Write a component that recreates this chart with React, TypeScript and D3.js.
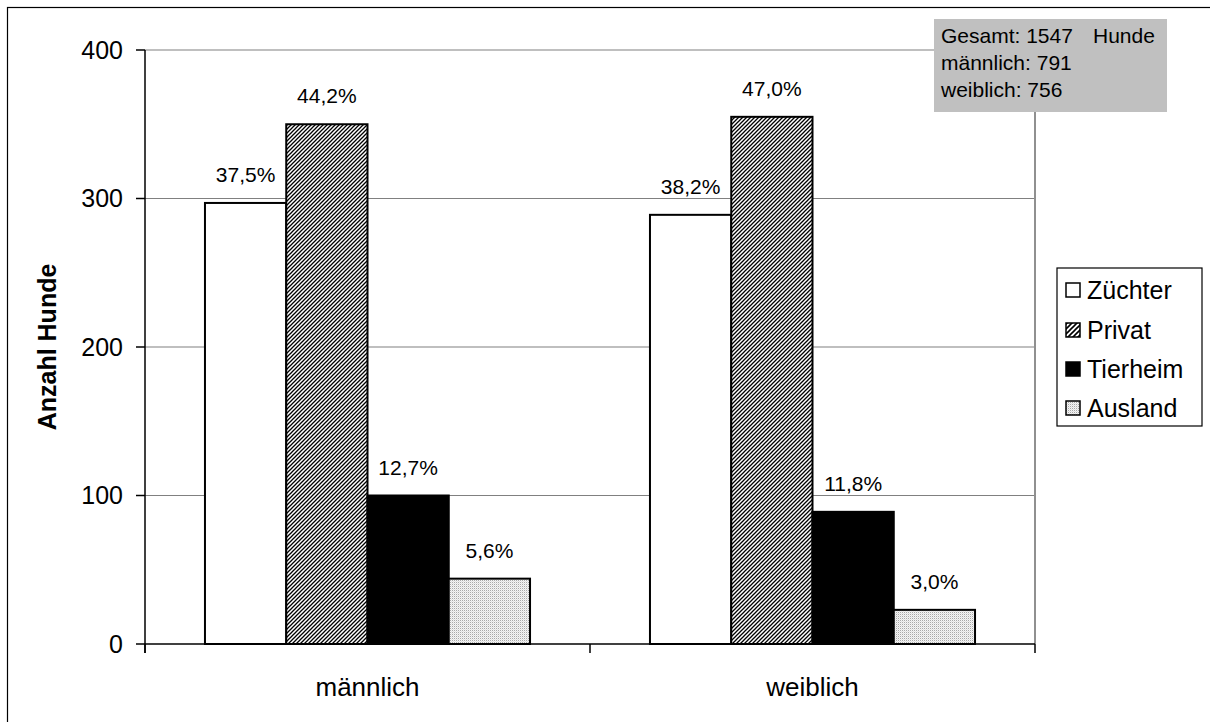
import React from "react";
import * as d3 from "d3";

const categories = ["männlich", "weiblich"];
const series = ["Züchter", "Privat", "Tierheim", "Ausland"];
const valuesMaennlich = [297, 350, 100, 44];
const valuesWeiblich = [289, 355, 89, 23];
const percentMaennlich = ["37,5%", "44,2%", "12,7%", "5,6%"];
const percentWeiblich = ["38,2%", "47,0%", "11,8%", "3,0%"];
const yTicks = [0, 100, 200, 300, 400];
const infoLines = ["Gesamt: 1547", "männlich: 791", "weiblich: 756"];

const W = 1210;
const H = 722;
const FONT = "'Liberation Sans', Arial, sans-serif";

export default function App() {
  const plotLeft = 145;
  const plotRight = 1035;
  const plotTop = 50;
  const plotBottom = 644;

  const y = d3.scaleLinear().domain([0, 400]).range([plotBottom, plotTop]);
  const x0 = d3.scaleBand<string>().domain(categories).range([plotLeft, plotRight]).padding(0);
  const x1 = d3
    .scaleBand<string>()
    .domain(series)
    .range([0, x0.bandwidth()])
    .paddingInner(0)
    .paddingOuter(0.738);

  const data = [
    { cat: categories[0], vals: valuesMaennlich, pct: percentMaennlich },
    { cat: categories[1], vals: valuesWeiblich, pct: percentWeiblich },
  ];

  const fills = ["#ffffff", "url(#hatch)", "#000000", "url(#dots)"];
  const legendFills = ["#ffffff", "url(#hatchL)", "#000000", "url(#dots)"];

  const legendX = 1057;
  const legendY = 268;
  const legendW = 145;
  const legendH = 158;
  const legendRowY = [290, 330, 369, 408];

  return (
    <svg
      width={W}
      height={H}
      style={{ position: "absolute", left: 0, top: 0, background: "#fff" }}
      fontFamily={FONT}
    >
      <defs>
        <pattern id="hatch" patternUnits="userSpaceOnUse" width={4} height={4}>
          <rect width={4} height={4} fill="#fff" />
          <path d="M-1,1 l2,-2 M0,4 l4,-4 M3,5 l2,-2" stroke="#000" strokeWidth={1.3} />
        </pattern>
        <pattern id="hatchL" patternUnits="userSpaceOnUse" width={5} height={5}>
          <rect width={5} height={5} fill="#fff" />
          <path d="M-1,1 l2,-2 M0,5 l5,-5 M4,6 l2,-2" stroke="#000" strokeWidth={1.6} />
        </pattern>
        <pattern id="dots" patternUnits="userSpaceOnUse" width={2} height={2}>
          <rect width={2} height={2} fill="#f4f4f4" />
          <rect x={0} y={0} width={1} height={1} fill="#a8a8a8" />
          <rect x={1} y={1} width={1} height={1} fill="#e0e0e0" />
        </pattern>
      </defs>

      {/* outer border (right/bottom outside the view) */}
      <rect x={7.5} y={7.5} width={W + 20} height={H + 20} fill="none" stroke="#000" strokeWidth={1.2} />

      {/* gridlines */}
      {yTicks
        .filter((t) => t > 0)
        .map((t) => (
          <line
            key={"g" + t}
            x1={plotLeft}
            x2={plotRight}
            y1={y(t)}
            y2={y(t)}
            stroke="#808080"
            strokeWidth={1.2}
          />
        ))}
      {/* right plot border */}
      <line x1={plotRight} x2={plotRight} y1={plotTop} y2={plotBottom} stroke="#909090" strokeWidth={2} />

      {/* bars */}
      {data.map((d) =>
        d.vals.map((v, i) => {
          const bx = (x0(d.cat) as number) + (x1(series[i]) as number);
          const bw = x1.bandwidth();
          return (
            <g key={d.cat + i}>
              <rect
                x={bx}
                y={y(v)}
                width={bw}
                height={y(0) - y(v)}
                fill={fills[i]}
                stroke="#000"
                strokeWidth={2}
              />
              <text
                x={bx + bw / 2}
                y={y(v) - 21}
                textAnchor="middle"
                fontSize={21}
                fill="#000"
              >
                {d.pct[i]}
              </text>
            </g>
          );
        })
      )}

      {/* y axis */}
      <line x1={plotLeft} x2={plotLeft} y1={plotTop} y2={plotBottom + 9} stroke="#000" strokeWidth={1.5} />
      {yTicks.map((t) => (
        <g key={"t" + t}>
          <line x1={plotLeft - 9} x2={plotLeft} y1={y(t)} y2={y(t)} stroke="#000" strokeWidth={1.5} />
          <text
            x={plotLeft - 22}
            y={y(t)}
            dy="0.35em"
            textAnchor="end"
            fontSize={25}
            fill="#000"
          >
            {t}
          </text>
        </g>
      ))}

      {/* x axis */}
      <line x1={plotLeft} x2={plotRight} y1={plotBottom} y2={plotBottom} stroke="#000" strokeWidth={1.5} />
      {[plotLeft, ...categories.map((c) => (x0(c) as number) + x0.bandwidth())].map((px, i) => (
        <line key={"xt" + i} x1={px} x2={px} y1={plotBottom} y2={plotBottom + 9} stroke="#000" strokeWidth={1.5} />
      ))}
      {categories.map((c) => (
        <text
          key={"xl" + c}
          x={(x0(c) as number) + x0.bandwidth() / 2}
          y={696}
          textAnchor="middle"
          fontSize={26}
          fill="#000"
        >
          {c}
        </text>
      ))}

      {/* axis title */}
      <text
        transform={`translate(56,347) rotate(-90)`}
        textAnchor="middle"
        fontSize={25}
        fontWeight="bold"
        fill="#000"
      >
        Anzahl Hunde
      </text>

      {/* info box */}
      <rect x={934} y={19} width={233} height={93} fill="#c0c0c0" />
      {infoLines.map((l, i) => (
        <text key={"info" + i} x={941} y={43 + i * 27} fontSize={21} fill="#000">
          {l}
        </text>
      ))}
      <text x={1093} y={43} fontSize={21} fill="#000">
        Hunde
      </text>

      {/* legend */}
      <rect x={legendX} y={legendY} width={legendW} height={legendH} fill="#fff" stroke="#000" strokeWidth={1.2} />
      {series.map((s, i) => (
        <g key={"lg" + s}>
          <rect
            x={1066}
            y={legendRowY[i] - 7}
            width={14}
            height={14}
            fill={legendFills[i]}
            stroke="#000"
            strokeWidth={1.5}
          />
          <text x={1087} y={legendRowY[i]} dy="0.35em" fontSize={25} fill="#000">
            {s}
          </text>
        </g>
      ))}
    </svg>
  );
}
